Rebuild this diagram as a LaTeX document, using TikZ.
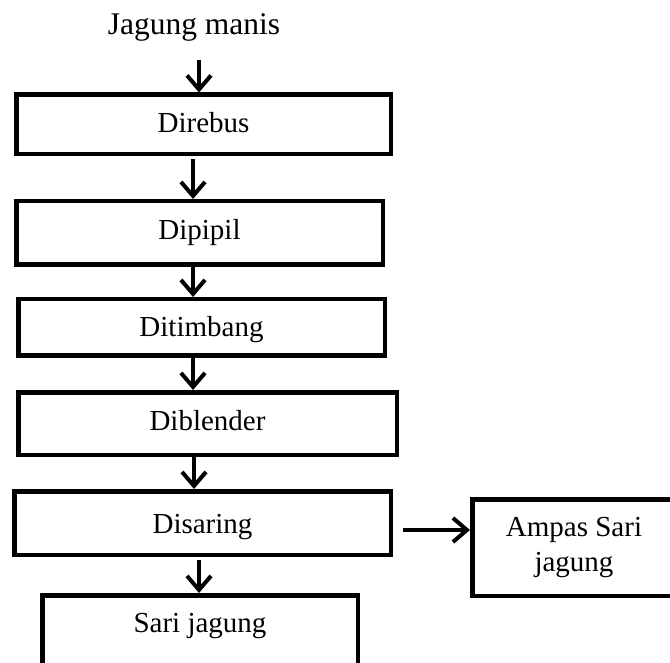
\documentclass[tikz,border=0pt]{standalone}
\usepackage{fontspec}
\setmainfont{Liberation Serif}
\usetikzlibrary{arrows.meta}
\begin{document}
\begin{tikzpicture}[x=1pt,y=-1pt,
  box/.style={draw, line width=4.5pt, inner sep=0pt, font=\fontsize{29}{35}\selectfont},
  lbl/.style={inner sep=0pt, font=\fontsize{31.5}{37}\selectfont},
  arr/.style={line width=4pt, -{Straight Barb[length=14pt,width=24pt]}}]
\useasboundingbox (0,0) rectangle (670,663);
\clip (0,0) rectangle (670,663);
\node[lbl, anchor=base] (jagung) at (194,35) {Jagung manis};
\node[box, minimum width=374.5pt, minimum height=59.5pt, text height=17pt, text depth=0pt] (direbus) at (203.5,124.5) {Direbus};
\node[box, minimum width=366.5pt, minimum height=63.5pt, text height=14pt, text depth=0pt] (dipipil) at (199.5,233) {Dipipil};
\node[box, minimum width=366.5pt, minimum height=56.5pt, text height=18pt, text depth=0pt] (ditimbang) at (201.5,327.5) {Ditimbang};
\node[box, minimum width=378.5pt, minimum height=62.5pt, text height=14pt, text depth=0pt] (diblender) at (207.5,423.5) {Diblender};
\node[box, minimum width=376.5pt, minimum height=63.5pt, text height=20pt, text depth=0pt] (disaring) at (202.5,523) {Disaring};
\node[box, minimum width=315.5pt, minimum height=122.5pt, text height=0pt, text depth=49pt] (sari) at (200,656.5) {Sari jagung};
\node[box, align=center, minimum width=203.5pt, minimum height=96.5pt] (ampas) at (574,547.5) {Ampas Sari\\jagung};
\coordinate (c1) at (199,60);
\coordinate (c2) at (193,0);
\coordinate (c3) at (193,0);
\coordinate (c4) at (193,0);
\coordinate (c5) at (194,0);
\coordinate (c6) at (199,0);
\coordinate (h) at (0,530);
\draw[arr] (c1) -- (c1 |- direbus.north);
\draw[arr, shorten <=3pt] (c2 |- direbus.south) -- (c2 |- dipipil.north);
\draw[arr] (c3 |- dipipil.south) -- (c3 |- ditimbang.north);
\draw[arr] (c4 |- ditimbang.south) -- (c4 |- diblender.north);
\draw[arr] (c5 |- diblender.south) -- (c5 |- disaring.north);
\draw[arr, shorten <=3pt] (c6 |- disaring.south) -- (c6 |- sari.north);
\draw[arr, shorten <=10pt] (disaring.east |- h) -- (h -| ampas.west);
\end{tikzpicture}
\end{document}
